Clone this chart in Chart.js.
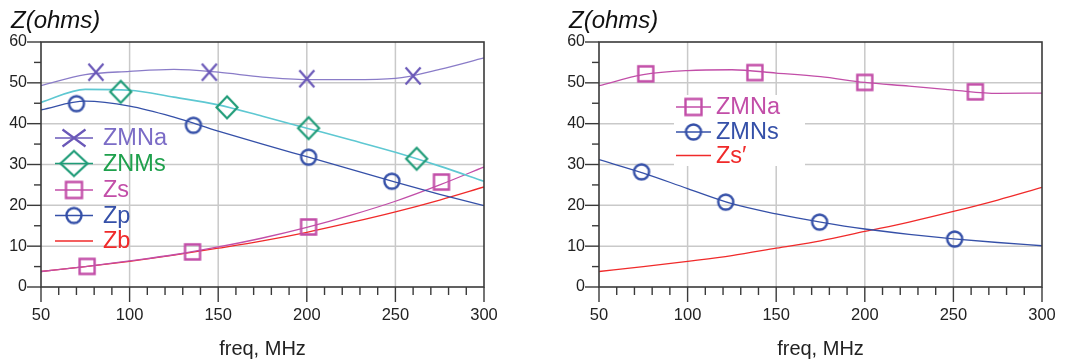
<!DOCTYPE html>
<html><head><meta charset="utf-8">
<script src="https://cdn.jsdelivr.net/npm/chart.js@4/dist/chart.umd.min.js"></script>
<style>
html,body{margin:0;padding:0;background:#fff;}
#wrap{position:relative;width:1075px;height:363px;overflow:hidden;}
#c1{position:absolute;left:0;top:0;}
#c2{position:absolute;left:537px;top:0;}
</style></head>
<body><div id="wrap"><canvas id="c1" width="537" height="363"></canvas><canvas id="c2" width="538" height="363"></canvas></div>
<script>
// ---------- data ----------
const freq = [50, 75, 100, 125, 150, 175, 200, 225, 250, 275, 300];
const xTickLabels = [50, 100, 150, 200, 250, 300];
const yTickLabels = [0, 10, 20, 30, 40, 50, 60];

// left chart curves
const leftZMNa = [49.3, 52.0, 52.8, 53.3, 52.6, 51.4, 50.8, 50.8, 51.1, 53.3, 56.1];
const leftZNMs = [45.2, 48.4, 48.2, 46.5, 44.6, 41.8, 38.9, 36.0, 33.0, 29.6, 25.9];
const leftZp   = [43.4, 45.5, 44.3, 41.6, 38.2, 35.0, 31.9, 28.8, 25.7, 22.7, 19.9];
const leftZs   = [3.8, 5.0, 6.4, 7.9, 9.8, 12.0, 14.6, 17.6, 21.0, 25.0, 29.4];
const leftZb   = [3.8, 5.0, 6.3, 7.8, 9.5, 11.3, 13.4, 15.8, 18.4, 21.3, 24.5];
// left chart markers
const leftZMNaMkF = [81, 145, 200, 260];
const leftZMNaMkV = [52.6, 52.6, 51.0, 51.7];
const leftZNMsMkF = [95, 155, 201, 262];
const leftZNMsMkV = [47.8, 44.0, 38.9, 31.4];
const leftZpMkF = [70, 136, 201, 248];
const leftZpMkV = [44.9, 39.6, 31.8, 25.9];
const leftZsMkF = [76, 135.5, 201, 276];
const leftZsMkV = [5.05, 8.6, 14.7, 25.7];

// right chart curves
const rightZMNa = [49.3, 52.0, 53.0, 53.2, 52.4, 51.5, 50.1, 49.2, 48.2, 47.4, 47.5];
const rightZMNs = [31.2, 27.9, 24.1, 20.4, 17.9, 15.9, 14.2, 12.9, 11.8, 10.9, 10.1];
const rightZs2  = [3.8, 5.0, 6.3, 7.7, 9.5, 11.3, 13.6, 15.9, 18.5, 21.3, 24.4];
// right chart markers
const rightZMNaMkF = [76.4, 138, 200, 262.4];
const rightZMNaMkV = [52.2, 52.5, 50.1, 47.8];
const rightZMNsMkF = [74, 121.5, 174.5, 250.7];
const rightZMNsMkV = [28.2, 20.8, 15.9, 11.75];

// ---------- styles ----------
const FONT = '"Liberation Sans", Arial, sans-serif';
const C = {
  purpleLine:'#8a7cc8', purpleMark:'#6a58b8', purpleText:'#7b6cc6',
  cyan:'#5ec8d2', greenMark:'#1f9c78', greenText:'#1ea04c',
  magenta:'#c24ea8', blue:'#3550a8', red:'#f02a2a'
};

function marker(shape, color, w, h, lw) {
  const pad = lw + 1;
  const cv = document.createElement('canvas');
  cv.width = Math.ceil(w + pad * 2); cv.height = Math.ceil(h + pad * 2);
  const g = cv.getContext('2d');
  g.strokeStyle = color; g.lineWidth = lw; g.lineJoin = 'miter';
  const cx = cv.width / 2, cy = cv.height / 2, rx = w / 2, ry = h / 2;
  g.beginPath();
  if (shape === 'x') {
    g.moveTo(cx - rx, cy - ry); g.lineTo(cx + rx, cy + ry);
    g.moveTo(cx + rx, cy - ry); g.lineTo(cx - rx, cy + ry);
  } else if (shape === 'diamond') {
    g.moveTo(cx, cy - ry); g.lineTo(cx + rx, cy); g.lineTo(cx, cy + ry); g.lineTo(cx - rx, cy); g.closePath();
  } else if (shape === 'square') {
    g.rect(cx - rx, cy - ry, w, h);
  } else if (shape === 'circle') {
    g.ellipse(cx, cy, rx, ry, 0, 0, Math.PI * 2);
  }
  g.stroke();
  return cv;
}

const mk = {
  x: marker('x', C.purpleMark, 15, 17, 2.2),
  xL: marker('x', C.purpleMark, 23, 17, 2.2),
  dia: marker('diamond', C.greenMark, 21, 22, 2.2),
  diaL: marker('diamond', C.greenMark, 27, 25, 2.2),
  sq: marker('square', C.magenta, 15, 15, 2.4),
  sqL: marker('square', C.magenta, 16, 16, 2.4),
  ci: marker('circle', C.blue, 15, 15, 2.4),
  ciL: marker('circle', C.blue, 15, 15, 2.4)
};

function pts(xs, ys) { return xs.map((x, i) => ({ x: x, y: ys[i] })); }
function lineDs(vals, color, w) {
  return { data: pts(freq, vals), borderColor: color, borderWidth: w, pointRadius: 0, cubicInterpolationMode: 'monotone', fill: false, order: 2 };
}
function markDs(fs, vs, img) {
  return { data: pts(fs, vs), showLine: false, pointStyle: img, pointRadius: 8, borderColor: 'rgba(0,0,0,0)', backgroundColor: 'rgba(0,0,0,0)', order: 1 };
}

// plugin: grid, ticks, border, title, legend
const framePlugin = {
  id: 'frame',
  beforeDatasetsDraw(chart) {
    const ctx = chart.ctx, a = chart.chartArea, xs = chart.scales.x, ys = chart.scales.y;
    ctx.save();
    ctx.strokeStyle = '#c9c9c9'; ctx.lineWidth = 1.5;
    xTickLabels.forEach(v => { const px = xs.getPixelForValue(v); if (px > a.left + 1 && px < a.right - 1) { ctx.beginPath(); ctx.moveTo(px, a.top); ctx.lineTo(px, a.bottom); ctx.stroke(); } });
    yTickLabels.forEach(v => { const py = ys.getPixelForValue(v); if (py > a.top + 1 && py < a.bottom - 1) { ctx.beginPath(); ctx.moveTo(a.left, py); ctx.lineTo(a.right, py); ctx.stroke(); } });
    const o = chart.options.plugins.frame;
    if (o.legendBox) { ctx.fillStyle = '#fff'; const b = o.legendBox; ctx.fillRect(b[0], b[1], b[2], b[3]); }
    ctx.restore();
  },
  afterDatasetsDraw(chart) {
    const ctx = chart.ctx, a = chart.chartArea, xs = chart.scales.x, ys = chart.scales.y;
    const o = chart.options.plugins.frame;
    ctx.save();
    ctx.strokeStyle = '#3a3a3a'; ctx.lineWidth = 1.6;
    ctx.strokeRect(a.left, a.top, a.right - a.left, a.bottom - a.top);
    ctx.lineWidth = 1.4;
    xs.ticks.forEach(t => { const px = xs.getPixelForValue(t.value); const major = t.value % 50 === 0; ctx.beginPath(); ctx.moveTo(px, a.bottom); ctx.lineTo(px, a.bottom + (major ? 15 : 8)); ctx.stroke(); });
    ys.ticks.forEach(t => { const py = ys.getPixelForValue(t.value); const major = t.value % 10 === 0; ctx.beginPath(); ctx.moveTo(a.left, py); ctx.lineTo(a.left - (major ? 14 : 7), py); ctx.stroke(); });
    // title
    ctx.fillStyle = '#111'; ctx.font = 'italic 24px ' + FONT; ctx.textBaseline = 'alphabetic'; ctx.textAlign = 'left';
    ctx.fillText('Z(ohms)', o.titleX, 27.5);
    // legend
    ctx.font = '23.5px ' + FONT; ctx.textBaseline = 'middle';
    o.legend.forEach((it, i) => {
      const y = o.legendY[i];
      ctx.strokeStyle = it.line; ctx.lineWidth = 1.7;
      ctx.beginPath(); ctx.moveTo(o.legendX, y); ctx.lineTo(o.legendX + o.legendW, y); ctx.stroke();
      if (it.img) ctx.drawImage(it.img, o.legendX + o.legendW / 2 - it.img.width / 2, y - it.img.height / 2);
      ctx.fillStyle = it.text; ctx.fillText(it.label, o.legendTextX, y + 1);
    });
    ctx.restore();
  }
};

function makeChart(id, datasets, leftW, padRight, frameOpts) {
  return new Chart(document.getElementById(id), {
    type: 'line',
    data: { datasets: datasets },
    options: {
      responsive: false, animation: false, events: [],
      layout: { padding: { top: 42, right: padRight, left: 0, bottom: 0 } },
      plugins: { legend: { display: false }, tooltip: { enabled: false }, frame: frameOpts },
      scales: {
        x: {
          type: 'linear', min: 50, max: 300,
          grid: { display: false, drawTicks: false }, border: { display: false },
          ticks: { stepSize: 10, autoSkip: false, maxRotation: 0, padding: 19, color: '#222', font: { family: FONT, size: 16.5 },
                   callback: v => (v % 50 === 0 ? String(v) : '') },
          title: { display: true, text: 'freq, MHz', color: '#222', font: { family: FONT, size: 20 }, padding: { top: 0, bottom: 2 } },
          afterFit: s => { s.height = 76; }
        },
        y: {
          type: 'linear', min: 0, max: 60,
          grid: { display: false, drawTicks: false }, border: { display: false },
          ticks: { stepSize: 5, autoSkip: false, padding: 14, color: '#222', font: { family: FONT, size: 16 },
                   callback: v => (v % 10 === 0 ? String(v) : '') },
          afterFit: s => { s.width = leftW; }
        }
      }
    },
    plugins: [framePlugin]
  });
}

makeChart('c1', [
  lineDs(leftZMNa, C.purpleLine, 1.3),
  lineDs(leftZNMs, C.cyan, 1.6),
  lineDs(leftZp, C.blue, 1.3),
  lineDs(leftZs, C.magenta, 1.3),
  lineDs(leftZb, C.red, 1.3),
  markDs(leftZMNaMkF, leftZMNaMkV, mk.x),
  markDs(leftZNMsMkF, leftZNMsMkV, mk.dia),
  markDs(leftZpMkF, leftZpMkV, mk.ci),
  markDs(leftZsMkF, leftZsMkV, mk.sq)
], 41, 53, {
  titleX: 11, legendX: 55, legendW: 38, legendTextX: 103,
  legendY: [138, 163.5, 190, 215.5, 241],
  legend: [
    { label: 'ZMNa', line: C.purpleMark, text: C.purpleText, img: mk.xL },
    { label: 'ZNMs', line: C.greenMark, text: C.greenText, img: mk.diaL },
    { label: 'Zs', line: C.magenta, text: C.magenta, img: mk.sqL },
    { label: 'Zp', line: C.blue, text: C.blue, img: mk.ciL },
    { label: 'Zb', line: C.red, text: C.red, img: null }
  ]
});

makeChart('c2', [
  lineDs(rightZMNa, C.magenta, 1.3),
  lineDs(rightZMNs, C.blue, 1.3),
  lineDs(rightZs2, C.red, 1.3),
  markDs(rightZMNaMkF, rightZMNaMkV, mk.sq),
  markDs(rightZMNsMkF, rightZMNsMkV, mk.ci)
], 62, 33, {
  titleX: 32, legendX: 139, legendW: 35, legendTextX: 179,
  legendBox: [137, 95, 131, 71],
  legendY: [107, 132, 155.5],
  legend: [
    { label: 'ZMNa', line: C.magenta, text: C.magenta, img: mk.sqL },
    { label: 'ZMNs', line: C.blue, text: C.blue, img: mk.ciL },
    { label: 'Zs\u2032', line: C.red, text: C.red, img: null }
  ]
});
</script>
</body></html>
